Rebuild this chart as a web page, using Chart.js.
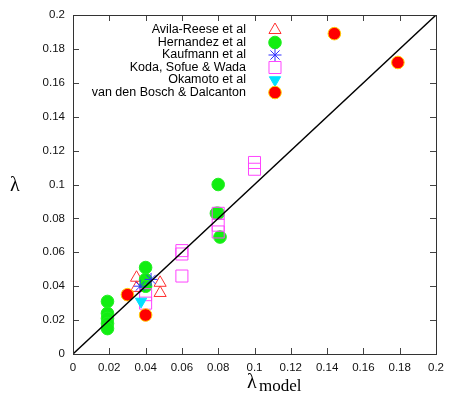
<!DOCTYPE html>
<html>
<head>
<meta charset="utf-8">
<script src="https://cdn.jsdelivr.net/npm/chart.js@4/dist/chart.umd.min.js"></script>
<style>
html,body{margin:0;padding:0;background:#fff;}
#wrap{width:458px;height:393px;}
</style>
</head>
<body>
<div id="wrap"><canvas id="c" width="458" height="393"></canvas></div>
<script>
// ---- data ----
const seriesNames = ["Avila-Reese et al", "Hernandez et al", "Kaufmann et al", "Koda, Sofue & Wada", "Okamoto et al", "van den Bosch & Dalcanton"];
const avilaX = [0.035, 0.035, 0.048, 0.048];
const avilaY = [0.045, 0.039, 0.042, 0.036];
const hernX = [0.019, 0.019, 0.019, 0.019, 0.019, 0.040, 0.040, 0.040, 0.080, 0.080, 0.079, 0.081];
const hernY = [0.031, 0.024, 0.021, 0.018, 0.015, 0.051, 0.044, 0.040, 0.100, 0.083, 0.083, 0.069];
const kaufX = [0.043, 0.037];
const kaufY = [0.044, 0.040];
const kodaX = [0.040, 0.040, 0.060, 0.060, 0.060, 0.080, 0.080, 0.080, 0.100, 0.100];
const kodaY = [0.035, 0.030, 0.061, 0.059, 0.046, 0.083, 0.076, 0.072, 0.113, 0.109];
const okaX = [0.0375];
const okaY = [0.031];
const boschX = [0.030, 0.040, 0.144, 0.179];
const boschY = [0.035, 0.023, 0.189, 0.172];
const diagX = [0, 0.2];
const diagY = [0, 0.2];
const tickValues = [0, 0.02, 0.04, 0.06, 0.08, 0.1, 0.12, 0.14, 0.16, 0.18, 0.2];

const pts = (xs, ys) => xs.map((x, i) => ({x: x, y: ys[i]}));

const styles = [
  {pointStyle: 'triangle', radius: 7, rotation: 0, bg: 'rgba(0,0,0,0)', border: '#ff3030', bw: 1},
  {pointStyle: 'circle', radius: 6.3, rotation: 0, bg: '#11ee11', border: '#22ee22', bw: 1},
  {pointStyle: 'star', radius: 6.5, rotation: 0, bg: 'rgba(0,0,0,0)', border: '#3030ff', bw: 1},
  {pointStyle: 'rect', radius: 8.5, rotation: 0, bg: 'rgba(0,0,0,0)', border: '#ff44ff', bw: 1},
  {pointStyle: 'triangle', radius: 6.5, rotation: 180, bg: '#00e0ff', border: '#00e0ff', bw: 1},
  {pointStyle: 'circle', radius: 6.3, rotation: 0, bg: '#ff0000', border: '#ffcc00', bw: 1}
];
const seriesData = [pts(avilaX, avilaY), pts(hernX, hernY), pts(kaufX, kaufY), pts(kodaX, kodaY), pts(okaX, okaY), pts(boschX, boschY)];

const datasets = seriesData.map((d, i) => ({
  type: 'scatter',
  label: seriesNames[i],
  data: d,
  pointStyle: styles[i].pointStyle,
  pointRadius: styles[i].radius,
  pointRotation: styles[i].rotation,
  pointBackgroundColor: styles[i].bg,
  pointBorderColor: styles[i].border,
  pointBorderWidth: styles[i].bw,
  pointHoverRadius: styles[i].radius,
  order: 6 - i
}));
datasets.push({
  type: 'line',
  label: 'diag',
  data: pts(diagX, diagY),
  borderColor: '#000',
  borderWidth: 1.4,
  pointRadius: 0,
  fill: false,
  order: -1
});

const frame = {
  id: 'frame',
  afterDraw(chart) {
    const ctx = chart.ctx, a = chart.chartArea;
    const xs = chart.scales.x, ys = chart.scales.y;
    ctx.save();
    ctx.strokeStyle = '#444';
    ctx.lineWidth = 1;
    ctx.beginPath();
    tickValues.forEach(v => {
      const px = Math.round(xs.getPixelForValue(v)) + 0.5;
      ctx.moveTo(px, a.bottom); ctx.lineTo(px, a.bottom - 6);
      ctx.moveTo(px, a.top); ctx.lineTo(px, a.top + 6);
      const py = Math.round(ys.getPixelForValue(v)) + 0.5;
      ctx.moveTo(a.left, py); ctx.lineTo(a.left + 6, py);
      ctx.moveTo(a.right, py); ctx.lineTo(a.right - 6, py);
    });
    ctx.stroke();
    ctx.strokeStyle = '#333';
    ctx.strokeRect(Math.round(a.left) + 0.5, Math.round(a.top) + 0.5, Math.round(a.right - a.left), Math.round(a.bottom - a.top));

    // legend
    ctx.font = '12.5px "Liberation Sans", Arial, sans-serif';
    ctx.textAlign = 'right';
    ctx.textBaseline = 'middle';
    const rows = [30, 42.5, 55, 67.5, 80, 92.5];
    seriesNames.forEach((n, i) => {
      ctx.fillStyle = '#000';
      ctx.fillText(n, 246, rows[i]);
      const s = styles[i];
      ctx.fillStyle = s.bg;
      ctx.strokeStyle = s.border;
      ctx.lineWidth = s.bw;
      Chart.helpers.drawPoint(ctx, {pointStyle: s.pointStyle, radius: s.radius, rotation: s.rotation, borderWidth: s.bw}, 275, rows[i]);
    });

    // axis titles
    ctx.fillStyle = '#000';
    ctx.textAlign = 'left';
    ctx.textBaseline = 'alphabetic';
    ctx.font = '20px "Liberation Serif", "DejaVu Serif", serif';
    ctx.fillText('λ', 10, 191);
    ctx.fillText('λ', 247, 388);
    ctx.font = '17px "Liberation Serif", "DejaVu Serif", serif';
    ctx.fillText('model', 259, 391);
    ctx.restore();
  }
};

const tickFmt = v => String(+(+v).toFixed(2));

new Chart(document.getElementById('c'), {
  type: 'scatter',
  data: {datasets: datasets},
  options: {
    responsive: false,
    devicePixelRatio: 1,
    animation: false,
    layout: {padding: {left: 0, right: 22, top: 15, bottom: 0}},
    plugins: {legend: {display: false}, tooltip: {enabled: false}},
    scales: {
      x: {
        type: 'linear', min: 0, max: 0.2,
        afterBuildTicks: s => { s.ticks = tickValues.map(v => ({value: v})); },
        afterFit: s => { s.height = 39; },
        grid: {display: false, drawTicks: false},
        border: {display: false},
        ticks: {callback: tickFmt, padding: 7, color: '#111', maxRotation: 0, autoSkip: false,
                font: {family: '"Liberation Sans", Arial, sans-serif', size: 11.5}}
      },
      y: {
        type: 'linear', min: 0, max: 0.2,
        afterBuildTicks: s => { s.ticks = tickValues.map(v => ({value: v})); },
        afterFit: s => { s.width = 73; },
        grid: {display: false, drawTicks: false},
        border: {display: false},
        ticks: {callback: tickFmt, padding: 8, color: '#111', autoSkip: false,
                font: {family: '"Liberation Sans", Arial, sans-serif', size: 11.5}}
      }
    }
  },
  plugins: [frame]
});
</script>
</body>
</html>
